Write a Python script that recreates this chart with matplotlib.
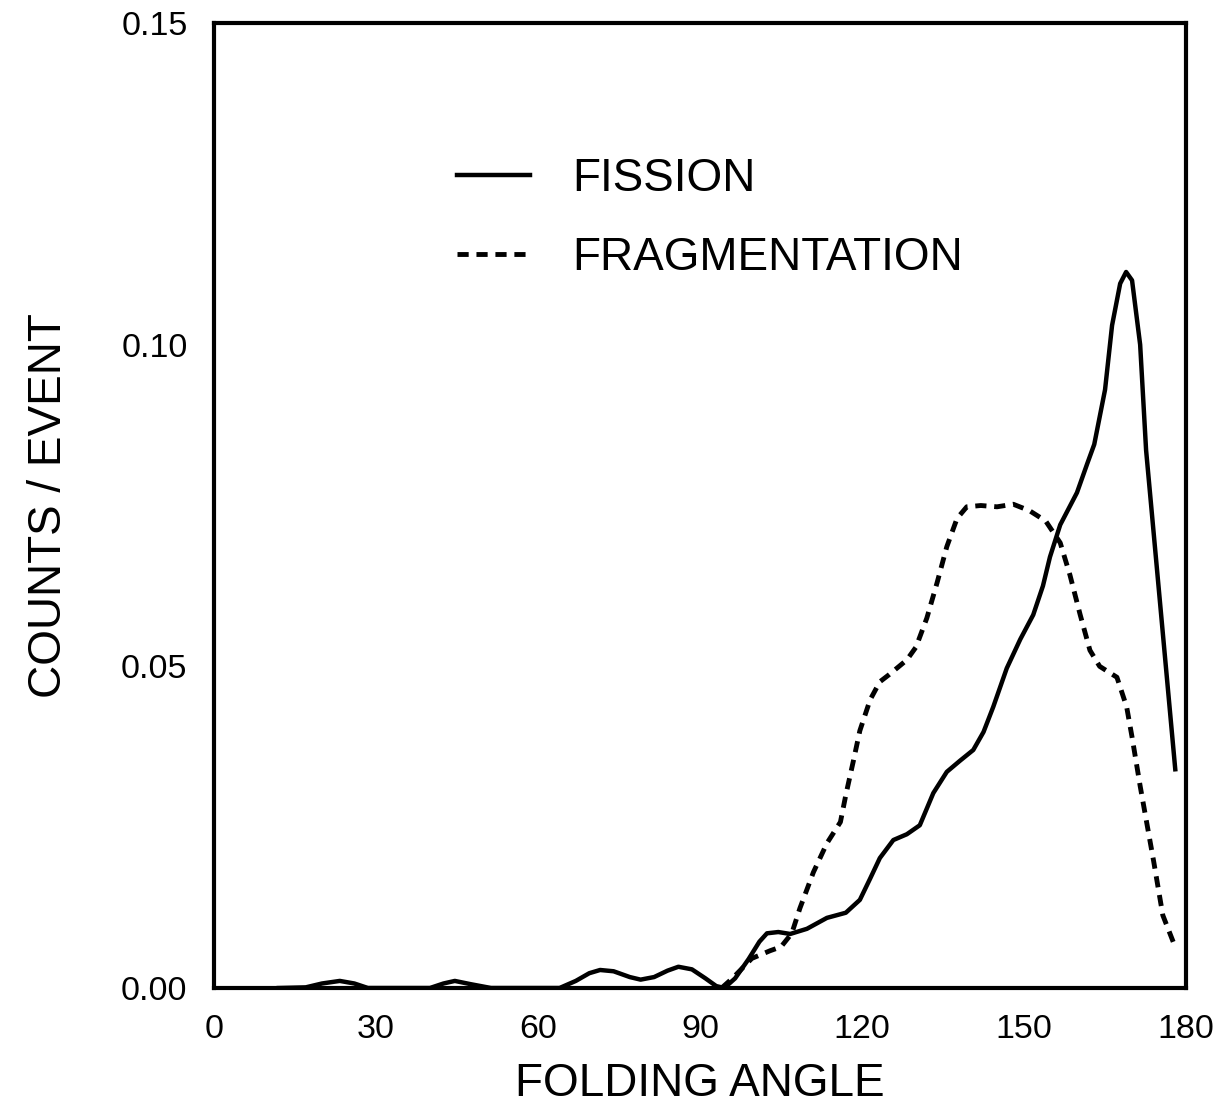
import matplotlib
matplotlib.use('Agg')
import matplotlib.pyplot as plt

plt.rcParams['font.family'] = ['Liberation Sans', 'DejaVu Sans']

# Folding-angle distributions
fission_angle = [12, 17, 20, 23.3, 26, 28.5, 40, 42.5, 44.6, 47.5, 51.3, 64, 67, 69.5,
                 71.5, 74, 77, 79, 81.5, 84, 86, 88.5, 91, 93, 94.5, 96.5, 99,
                 101, 102.4, 104.5, 106.7, 109.8, 113.5, 117, 119.6, 121.5, 123.3,
                 125.8, 128.3, 130.7, 133.2, 135.7, 138.1, 140.6, 142.5, 144.3,
                 146.8, 149.3, 151.7, 153.5, 154.8, 156.7, 159.8, 161.7, 163, 165,
                 166.3, 167.8, 168.9, 170, 171.5, 172.6, 178]
fission_counts = [0, 0.0001, 0.0007, 0.0011, 0.0007, 0, 0, 0.0007, 0.0011, 0.0006, 0,
                  0, 0.0011, 0.0023, 0.0028, 0.0026, 0.0017, 0.0013, 0.0017, 0.0027,
                  0.0033, 0.0029, 0.0015, 0.0003, 0, 0.0015, 0.0045, 0.0072, 0.0085,
                  0.0087, 0.0084, 0.0092, 0.0109, 0.0117, 0.0137, 0.017, 0.0202,
                  0.023, 0.0239, 0.0253, 0.0303, 0.0336, 0.0353, 0.037, 0.0398,
                  0.0437, 0.0497, 0.0542, 0.058, 0.0625, 0.067, 0.072, 0.077, 0.0815,
                  0.0845, 0.093, 0.103, 0.1095, 0.1113, 0.110, 0.100, 0.0836, 0.034]

frag_angle = [94, 96, 99.6, 103, 105, 107, 108.5, 111, 113.5, 116, 117, 118.4, 119.6,
              121.5, 123.3, 125, 128.3, 130, 132, 133.9, 135.7, 137.6, 139.4, 142,
              145, 148, 151, 154, 156.7, 158.5, 160.4, 162.2, 164, 167.2, 169, 170,
              171.5, 172.8, 174, 175.7, 177.7]
frag_counts = [0, 0.0015, 0.0046, 0.0058, 0.0064, 0.0085, 0.0124, 0.018, 0.0225,
               0.0258, 0.030, 0.0353, 0.040, 0.0448, 0.0476, 0.0487, 0.051, 0.053,
               0.0575, 0.063, 0.0686, 0.073, 0.0748, 0.0750, 0.0748, 0.0752, 0.0742,
               0.0726, 0.0692, 0.0642, 0.058, 0.0525, 0.050, 0.0483, 0.0437, 0.039,
               0.0314, 0.0253, 0.0197, 0.0113, 0.007]

x_ticks = [0, 30, 60, 90, 120, 150, 180]
y_ticks = [0.00, 0.05, 0.10, 0.15]

fig = plt.figure(figsize=(12.24, 11.07), dpi=100)
ax = fig.add_axes([0.1748, 0.1075, 0.7942, 0.8717])

ax.plot(fission_angle, fission_counts, color='black', lw=3.2, solid_joinstyle='round',
        label='FISSION')
ax.plot(frag_angle, frag_counts, color='black', lw=3.5, linestyle=(0, (2.3, 1.6)),
        label='FRAGMENTATION')

ax.set_xlim(0, 180)
ax.set_ylim(0, 0.15)
ax.set_xticks(x_ticks)
ax.set_yticks(y_ticks)
ax.set_xticklabels([str(t) for t in x_ticks])
ax.set_yticklabels(['%.2f' % t for t in y_ticks])
ax.tick_params(axis='both', length=0, labelsize=24.5)
ax.tick_params(axis='x', pad=19)
ax.tick_params(axis='y', pad=19)
for s in ax.spines.values():
    s.set_linewidth(3)

ax.set_xlabel('FOLDING ANGLE', fontsize=33, labelpad=12)
ax.set_ylabel('COUNTS / EVENT', fontsize=33, labelpad=36)

ax.legend(loc='upper left', bbox_to_anchor=(0.226, 0.885), frameon=False, fontsize=33,
          handlelength=1.6, handletextpad=0.92, labelspacing=0.76, borderpad=0)

fig.savefig('out.png', dpi=100, facecolor='white')
